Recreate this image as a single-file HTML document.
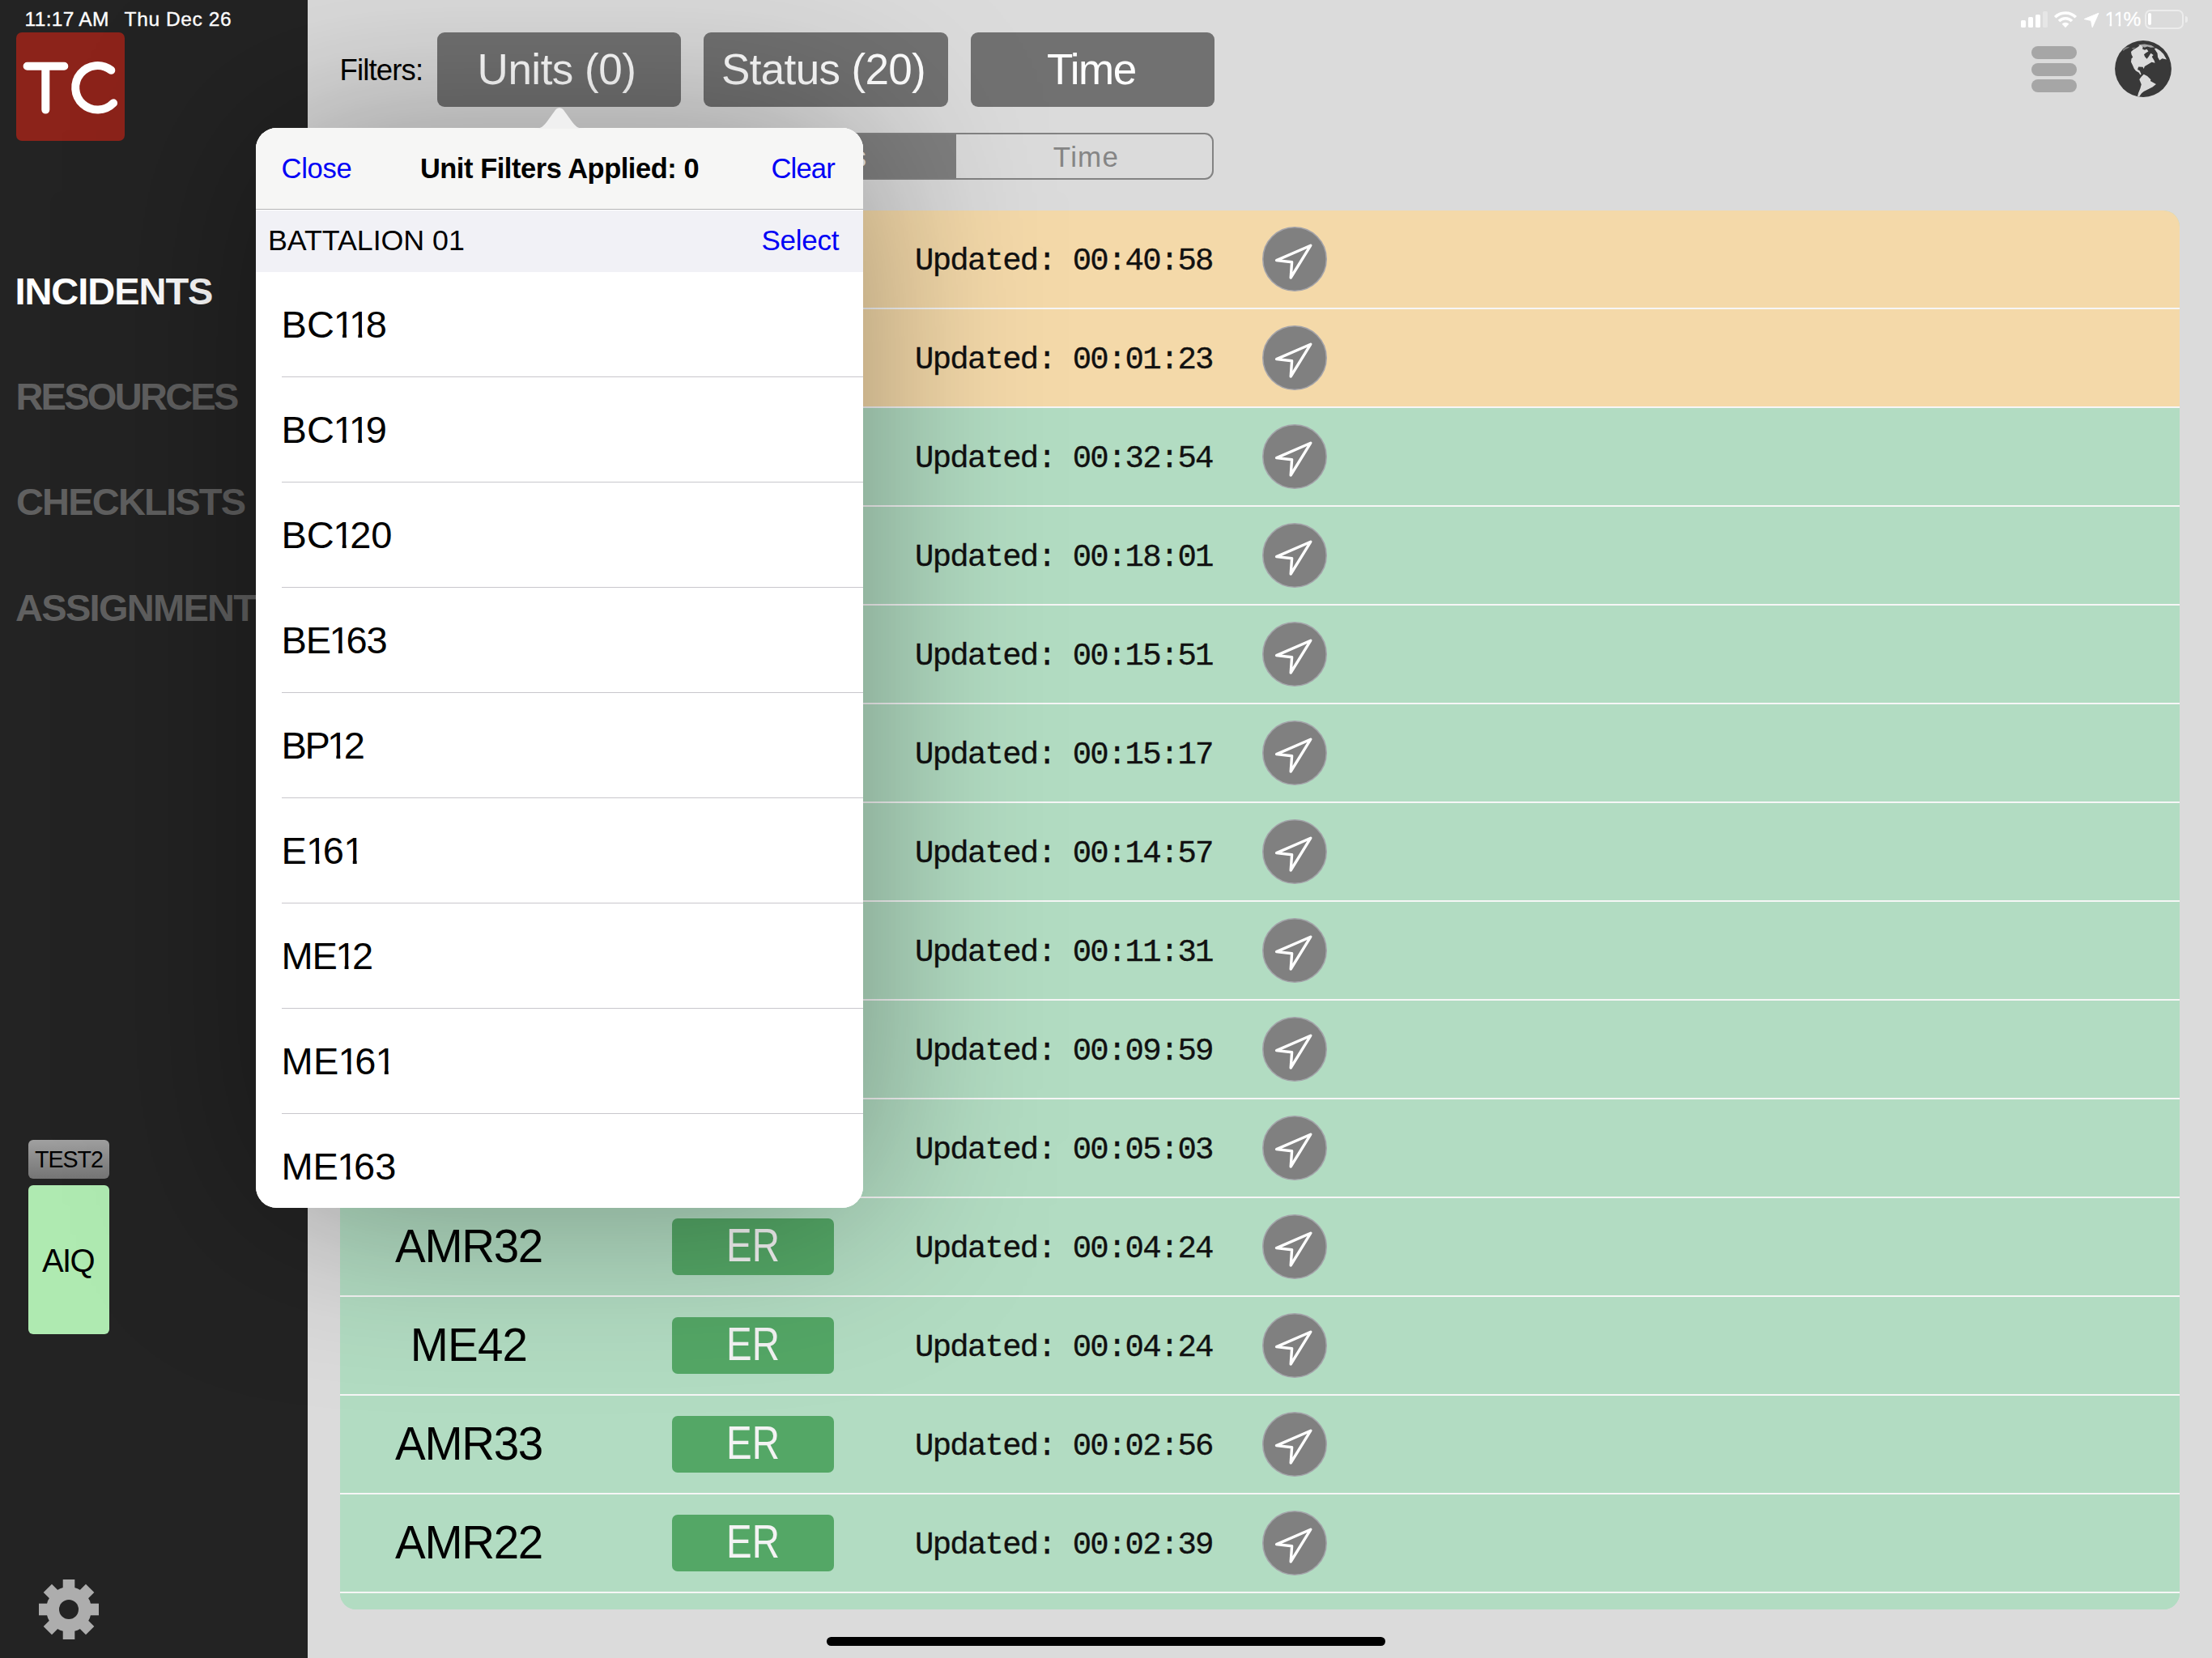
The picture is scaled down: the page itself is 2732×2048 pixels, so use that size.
<!DOCTYPE html>
<html><head><meta charset="utf-8"><title>TC</title>
<style>
html,body{margin:0;padding:0}
body{width:2732px;height:2048px;position:relative;overflow:hidden;background:#dbdbdb;font-family:"Liberation Sans",sans-serif}
.t{position:absolute;white-space:pre}
.abs{position:absolute}
#side{left:0;top:0;width:380px;height:2048px;background:#232323}
.fbtn{position:absolute;top:40px;height:92px;border-radius:9px;background:#717171}
#panel{left:420px;top:260px;width:2272px;height:1728px;border-radius:20px;overflow:hidden;background:#b2dcc2}
.row{position:absolute;left:0;width:2272px;height:120px;border-bottom:2px solid #f6f6f6}
.peach{background:#f4d9a9}.green{background:#b2dcc2}
.er{position:absolute;left:410px;top:25px;width:200px;height:70px;border-radius:7px;background:#54a766}
.nav{position:absolute;left:1139px;top:20px;width:80px;height:80px}
#pop{left:316px;top:158px;width:750px;height:1334px;border-radius:26px;background:#fff;box-shadow:0 0 230px 0 rgba(0,0,0,.35)}
#popin{position:absolute;left:0;top:0;width:750px;height:1334px;border-radius:26px;overflow:hidden;background:#fff}
.o{display:inline-block;width:16.3px;margin-left:-1.5px;margin-right:4.5px;clip-path:polygon(0 0,16.3px 0,16.3px 100%,11.4px 100%,11.4px 21.5px,0 21.5px)}
.sep{position:absolute;left:32px;right:0;height:1px;background:#c8c7cc}
</style></head><body>

<div class="t" style="left:419.5px;top:64.6px;font:normal 36.5px/44px 'Liberation Sans', sans-serif;color:#000;letter-spacing:-0.85px;">Filters:</div>
<div class="fbtn" style="left:540px;width:301px"></div>
<div class="t" style="left:537.0px;top:53.6px;font:normal 53px/64px 'Liberation Sans', sans-serif;color:#ffffff;letter-spacing:-0.5px;width:301px;text-align:center;">Units (0)</div>
<div class="fbtn" style="left:869px;width:302px"></div>
<div class="t" style="left:866.0px;top:53.6px;font:normal 53px/64px 'Liberation Sans', sans-serif;color:#ffffff;letter-spacing:-0.65px;width:302px;text-align:center;">Status (20)</div>
<div class="fbtn" style="left:1199px;width:301px"></div>
<div class="t" style="left:1197.3px;top:53.6px;font:normal 53px/64px 'Liberation Sans', sans-serif;color:#ffffff;letter-spacing:-1.5px;width:301px;text-align:center;">Time</div>
<div class="abs" style="left:540px;top:164px;width:955px;height:54px;border:2px solid #838383;border-radius:11px;overflow:hidden"><div class="abs" style="left:318px;top:0;width:321px;height:54px;background:#7f7f7f"></div><div class="abs" style="left:316px;top:0;width:2px;height:54px;background:#838383"></div></div>
<div class="t" style="left:860.0px;top:173.1px;font:normal 35px/42px 'Liberation Sans', sans-serif;color:#e9e9e9;width:321px;text-align:center;">Status</div>
<div class="t" style="left:1182.5px;top:173.1px;font:normal 35px/42px 'Liberation Sans', sans-serif;color:#858585;letter-spacing:1.2px;width:318px;text-align:center;">Time</div>
<div class="abs" style="left:2509px;top:57.4px;width:56px;height:16px;border-radius:8px;background:#a6a6a6"></div>
<div class="abs" style="left:2509px;top:77.6px;width:56px;height:16px;border-radius:8px;background:#a6a6a6"></div>
<div class="abs" style="left:2509px;top:97.8px;width:56px;height:16px;border-radius:8px;background:#a6a6a6"></div>
<svg class="abs" style="left:2612px;top:50px" width="70" height="70" viewBox="0 0 70 70"><defs><clipPath id="gc"><circle cx="35" cy="35" r="34.8"/></clipPath></defs><circle cx="35" cy="35" r="34.9" fill="#393939"/><g clip-path="url(#gc)" fill="#dbdbdb"><polygon points="19.98,14.12 22.69,11.40 28.12,8.14 31.38,5.70 34.74,7.87 34.09,10.59 36.81,11.67 39.52,10.86 41.42,13.57 38.44,15.20 35.99,17.37 37.08,20.09 39.52,22.80 41.69,20.09 44.41,15.74 47.67,17.92 45.77,20.09 48.75,24.97 49.57,27.69 45.49,26.87 42.24,28.77 36.81,32.03 35.72,35.02 34.53,32.84 29.21,32.57 28.01,35.83 30.84,37.46 31.38,38.82 32.57,41.80 31.38,42.45 29.75,39.63 25.95,37.46 23.78,34.74 22.15,30.94 19.98,26.60 20.52,22.26 22.26,20.74 20.52,17.37"/><polygon points="48.75,10.04 50.92,9.50 55.81,12.49 60.15,16.83 63.95,23.62 58.52,22.26 55.27,24.54 53.09,20.63 52.55,15.74 50.38,12.49"/><polygon points="35.72,41.80 40.07,43.97 44.41,48.32 43.87,49.95 50.92,54.02 46.58,57.55 41.15,60.26 35.72,62.98 33.01,65.15 30.02,69.60 27.85,69.60 29.21,64.60 31.38,59.17 32.74,54.29 30.84,49.40 30.29,48.05 33.01,44.52"/><polygon points="29.21,5.16 36.81,4.61 44.95,5.97 49.29,8.41 44.41,8.69 40.07,7.60 36.81,8.69 33.55,7.06 30.29,6.79" opacity=".7"/><polygon points="9.66,11.40 13.46,8.41 18.35,7.87 16.18,9.50 12.38,11.13 10.75,13.03" opacity=".45"/><polygon points="20.52,9.23 25.95,8.41 22.69,10.59" opacity=".45"/></g></svg>
<div class="abs" style="left:2496px;top:25.2px;width:6.2px;height:9.0px;border-radius:1.6px;background:#ffffff"></div>
<div class="abs" style="left:2505px;top:21.2px;width:6.2px;height:13.0px;border-radius:1.6px;background:#ffffff"></div>
<div class="abs" style="left:2514px;top:17.6px;width:6.2px;height:16.6px;border-radius:1.6px;background:#ffffff"></div>
<div class="abs" style="left:2523px;top:14px;width:6.2px;height:20.2px;border-radius:1.6px;background:#e6e6e6"></div>
<svg class="abs" style="left:2536px;top:13px" width="30" height="22" viewBox="0 0 30 22"><g fill="none" stroke="#fff" stroke-width="3.6" stroke-linecap="butt"><path d="M2.2 8.2 A18.2 18.2 0 0 1 27.8 8.2"/><path d="M7 13 A11.4 11.4 0 0 1 23 13"/></g><path d="M15 21.3 L10.6 16.6 A6.2 6.2 0 0 1 19.4 16.6 Z" fill="#fff"/></svg>
<svg class="abs" style="left:2573px;top:15px" width="20" height="20" viewBox="0 0 20 20"><path d="M19 1.2 L1.2 8.6 L9.6 10.4 L11.2 18.8 Z" fill="#fff" stroke="#fff" stroke-width="1" stroke-linejoin="round"/></svg>
<div class="t" style="left:2600.5px;top:8.8px;font:normal 24.5px/29px 'Liberation Sans', sans-serif;color:#fff;-webkit-text-stroke:0.35px #fff;"><span style="display:inline-block;width:8.5px;margin-left:-0.8px;margin-right:3.3px;clip-path:polygon(0 0,8.5px 0,8.5px 100%,5.9px 100%,5.9px 11.4px,0 11.4px)">1</span><span style="display:inline-block;width:8.5px;margin-left:-0.8px;margin-right:3.3px;clip-path:polygon(0 0,8.5px 0,8.5px 100%,5.9px 100%,5.9px 11.4px,0 11.4px)">1</span>%</div>
<div class="abs" style="left:2649px;top:12px;width:44px;height:20px;border:2px solid #ececec;border-radius:7px"></div>
<div class="abs" style="left:2652.8px;top:16px;width:4.2px;height:15px;border-radius:2px;background:#fff"></div>
<div class="abs" style="left:2698.6px;top:19.6px;width:3px;height:8.4px;border-radius:0 3px 3px 0;background:#ececec"></div>
<div id="panel" class="abs">
<div class="row peach" style="top:0px">
<div class="t" style="left:710.1px;top:39.6px;font:normal 39px/47px 'Liberation Mono', monospace;color:#111;letter-spacing:-1.78px;-webkit-text-stroke:0.35px #111;">Updated: 00:40:58</div>
<svg class="nav" viewBox="0 0 80 80"><circle cx="40" cy="40" r="39.2" fill="#808080" stroke="#a3a3a9" stroke-width="1.6"/><path d="M59.8 23.2 L17.6 41.6 L36.6 43.7 L35.2 63 Z" fill="none" stroke="#fff" stroke-width="3.4" stroke-linejoin="round" stroke-linecap="round"/></svg>
</div>
<div class="row peach" style="top:122px">
<div class="t" style="left:710.1px;top:39.6px;font:normal 39px/47px 'Liberation Mono', monospace;color:#111;letter-spacing:-1.78px;-webkit-text-stroke:0.35px #111;">Updated: 00:01:23</div>
<svg class="nav" viewBox="0 0 80 80"><circle cx="40" cy="40" r="39.2" fill="#808080" stroke="#a3a3a9" stroke-width="1.6"/><path d="M59.8 23.2 L17.6 41.6 L36.6 43.7 L35.2 63 Z" fill="none" stroke="#fff" stroke-width="3.4" stroke-linejoin="round" stroke-linecap="round"/></svg>
</div>
<div class="row green" style="top:244px">
<div class="t" style="left:710.1px;top:39.6px;font:normal 39px/47px 'Liberation Mono', monospace;color:#111;letter-spacing:-1.78px;-webkit-text-stroke:0.35px #111;">Updated: 00:32:54</div>
<svg class="nav" viewBox="0 0 80 80"><circle cx="40" cy="40" r="39.2" fill="#808080" stroke="#a3a3a9" stroke-width="1.6"/><path d="M59.8 23.2 L17.6 41.6 L36.6 43.7 L35.2 63 Z" fill="none" stroke="#fff" stroke-width="3.4" stroke-linejoin="round" stroke-linecap="round"/></svg>
</div>
<div class="row green" style="top:366px">
<div class="t" style="left:710.1px;top:39.6px;font:normal 39px/47px 'Liberation Mono', monospace;color:#111;letter-spacing:-1.78px;-webkit-text-stroke:0.35px #111;">Updated: 00:18:01</div>
<svg class="nav" viewBox="0 0 80 80"><circle cx="40" cy="40" r="39.2" fill="#808080" stroke="#a3a3a9" stroke-width="1.6"/><path d="M59.8 23.2 L17.6 41.6 L36.6 43.7 L35.2 63 Z" fill="none" stroke="#fff" stroke-width="3.4" stroke-linejoin="round" stroke-linecap="round"/></svg>
</div>
<div class="row green" style="top:488px">
<div class="t" style="left:710.1px;top:39.6px;font:normal 39px/47px 'Liberation Mono', monospace;color:#111;letter-spacing:-1.78px;-webkit-text-stroke:0.35px #111;">Updated: 00:15:51</div>
<svg class="nav" viewBox="0 0 80 80"><circle cx="40" cy="40" r="39.2" fill="#808080" stroke="#a3a3a9" stroke-width="1.6"/><path d="M59.8 23.2 L17.6 41.6 L36.6 43.7 L35.2 63 Z" fill="none" stroke="#fff" stroke-width="3.4" stroke-linejoin="round" stroke-linecap="round"/></svg>
</div>
<div class="row green" style="top:610px">
<div class="t" style="left:710.1px;top:39.6px;font:normal 39px/47px 'Liberation Mono', monospace;color:#111;letter-spacing:-1.78px;-webkit-text-stroke:0.35px #111;">Updated: 00:15:17</div>
<svg class="nav" viewBox="0 0 80 80"><circle cx="40" cy="40" r="39.2" fill="#808080" stroke="#a3a3a9" stroke-width="1.6"/><path d="M59.8 23.2 L17.6 41.6 L36.6 43.7 L35.2 63 Z" fill="none" stroke="#fff" stroke-width="3.4" stroke-linejoin="round" stroke-linecap="round"/></svg>
</div>
<div class="row green" style="top:732px">
<div class="t" style="left:710.1px;top:39.6px;font:normal 39px/47px 'Liberation Mono', monospace;color:#111;letter-spacing:-1.78px;-webkit-text-stroke:0.35px #111;">Updated: 00:14:57</div>
<svg class="nav" viewBox="0 0 80 80"><circle cx="40" cy="40" r="39.2" fill="#808080" stroke="#a3a3a9" stroke-width="1.6"/><path d="M59.8 23.2 L17.6 41.6 L36.6 43.7 L35.2 63 Z" fill="none" stroke="#fff" stroke-width="3.4" stroke-linejoin="round" stroke-linecap="round"/></svg>
</div>
<div class="row green" style="top:854px">
<div class="t" style="left:710.1px;top:39.6px;font:normal 39px/47px 'Liberation Mono', monospace;color:#111;letter-spacing:-1.78px;-webkit-text-stroke:0.35px #111;">Updated: 00:11:31</div>
<svg class="nav" viewBox="0 0 80 80"><circle cx="40" cy="40" r="39.2" fill="#808080" stroke="#a3a3a9" stroke-width="1.6"/><path d="M59.8 23.2 L17.6 41.6 L36.6 43.7 L35.2 63 Z" fill="none" stroke="#fff" stroke-width="3.4" stroke-linejoin="round" stroke-linecap="round"/></svg>
</div>
<div class="row green" style="top:976px">
<div class="t" style="left:710.1px;top:39.6px;font:normal 39px/47px 'Liberation Mono', monospace;color:#111;letter-spacing:-1.78px;-webkit-text-stroke:0.35px #111;">Updated: 00:09:59</div>
<svg class="nav" viewBox="0 0 80 80"><circle cx="40" cy="40" r="39.2" fill="#808080" stroke="#a3a3a9" stroke-width="1.6"/><path d="M59.8 23.2 L17.6 41.6 L36.6 43.7 L35.2 63 Z" fill="none" stroke="#fff" stroke-width="3.4" stroke-linejoin="round" stroke-linecap="round"/></svg>
</div>
<div class="row green" style="top:1098px">
<div class="t" style="left:710.1px;top:39.6px;font:normal 39px/47px 'Liberation Mono', monospace;color:#111;letter-spacing:-1.78px;-webkit-text-stroke:0.35px #111;">Updated: 00:05:03</div>
<svg class="nav" viewBox="0 0 80 80"><circle cx="40" cy="40" r="39.2" fill="#808080" stroke="#a3a3a9" stroke-width="1.6"/><path d="M59.8 23.2 L17.6 41.6 L36.6 43.7 L35.2 63 Z" fill="none" stroke="#fff" stroke-width="3.4" stroke-linejoin="round" stroke-linecap="round"/></svg>
</div>
<div class="row green" style="top:1220px">
<div class="t" style="left:9.0px;top:25.7px;font:normal 56.5px/68px 'Liberation Sans', sans-serif;color:#000;letter-spacing:-1.3px;width:300px;text-align:center;">AMR32</div>
<div class="er"></div>
<div class="t" style="left:410.0px;top:25.4px;font:normal 56.5px/68px 'Liberation Sans', sans-serif;color:#f3f3f3;width:200px;text-align:center;transform:scaleX(0.84);transform-origin:50% 50%;">ER</div>
<div class="t" style="left:710.1px;top:39.6px;font:normal 39px/47px 'Liberation Mono', monospace;color:#111;letter-spacing:-1.78px;-webkit-text-stroke:0.35px #111;">Updated: 00:04:24</div>
<svg class="nav" viewBox="0 0 80 80"><circle cx="40" cy="40" r="39.2" fill="#808080" stroke="#a3a3a9" stroke-width="1.6"/><path d="M59.8 23.2 L17.6 41.6 L36.6 43.7 L35.2 63 Z" fill="none" stroke="#fff" stroke-width="3.4" stroke-linejoin="round" stroke-linecap="round"/></svg>
</div>
<div class="row green" style="top:1342px">
<div class="t" style="left:9.0px;top:25.7px;font:normal 56.5px/68px 'Liberation Sans', sans-serif;color:#000;letter-spacing:-0.8px;width:300px;text-align:center;">ME42</div>
<div class="er"></div>
<div class="t" style="left:410.0px;top:25.4px;font:normal 56.5px/68px 'Liberation Sans', sans-serif;color:#f3f3f3;width:200px;text-align:center;transform:scaleX(0.84);transform-origin:50% 50%;">ER</div>
<div class="t" style="left:710.1px;top:39.6px;font:normal 39px/47px 'Liberation Mono', monospace;color:#111;letter-spacing:-1.78px;-webkit-text-stroke:0.35px #111;">Updated: 00:04:24</div>
<svg class="nav" viewBox="0 0 80 80"><circle cx="40" cy="40" r="39.2" fill="#808080" stroke="#a3a3a9" stroke-width="1.6"/><path d="M59.8 23.2 L17.6 41.6 L36.6 43.7 L35.2 63 Z" fill="none" stroke="#fff" stroke-width="3.4" stroke-linejoin="round" stroke-linecap="round"/></svg>
</div>
<div class="row green" style="top:1464px">
<div class="t" style="left:9.0px;top:25.7px;font:normal 56.5px/68px 'Liberation Sans', sans-serif;color:#000;letter-spacing:-1.3px;width:300px;text-align:center;">AMR33</div>
<div class="er"></div>
<div class="t" style="left:410.0px;top:25.4px;font:normal 56.5px/68px 'Liberation Sans', sans-serif;color:#f3f3f3;width:200px;text-align:center;transform:scaleX(0.84);transform-origin:50% 50%;">ER</div>
<div class="t" style="left:710.1px;top:39.6px;font:normal 39px/47px 'Liberation Mono', monospace;color:#111;letter-spacing:-1.78px;-webkit-text-stroke:0.35px #111;">Updated: 00:02:56</div>
<svg class="nav" viewBox="0 0 80 80"><circle cx="40" cy="40" r="39.2" fill="#808080" stroke="#a3a3a9" stroke-width="1.6"/><path d="M59.8 23.2 L17.6 41.6 L36.6 43.7 L35.2 63 Z" fill="none" stroke="#fff" stroke-width="3.4" stroke-linejoin="round" stroke-linecap="round"/></svg>
</div>
<div class="row green" style="top:1586px">
<div class="t" style="left:9.0px;top:25.7px;font:normal 56.5px/68px 'Liberation Sans', sans-serif;color:#000;letter-spacing:-1.3px;width:300px;text-align:center;">AMR22</div>
<div class="er"></div>
<div class="t" style="left:410.0px;top:25.4px;font:normal 56.5px/68px 'Liberation Sans', sans-serif;color:#f3f3f3;width:200px;text-align:center;transform:scaleX(0.84);transform-origin:50% 50%;">ER</div>
<div class="t" style="left:710.1px;top:39.6px;font:normal 39px/47px 'Liberation Mono', monospace;color:#111;letter-spacing:-1.78px;-webkit-text-stroke:0.35px #111;">Updated: 00:02:39</div>
<svg class="nav" viewBox="0 0 80 80"><circle cx="40" cy="40" r="39.2" fill="#808080" stroke="#a3a3a9" stroke-width="1.6"/><path d="M59.8 23.2 L17.6 41.6 L36.6 43.7 L35.2 63 Z" fill="none" stroke="#fff" stroke-width="3.4" stroke-linejoin="round" stroke-linecap="round"/></svg>
</div>
<div class="row green" style="top:1708px">
</div>
</div>
<div class="abs" style="left:1021px;top:2022px;width:690px;height:11px;border-radius:6px;background:#000"></div>
<div id="side" class="abs"></div>
<div class="t" style="left:30.6px;top:9.2px;font:normal 24.5px/29px 'Liberation Sans', sans-serif;color:#fff;letter-spacing:0.3px;-webkit-text-stroke:0.35px #fff;">11:17 AM</div>
<div class="t" style="left:153.6px;top:9.2px;font:normal 24.5px/29px 'Liberation Sans', sans-serif;color:#fff;letter-spacing:0.6px;-webkit-text-stroke:0.35px #fff;">Thu Dec 26</div>
<svg class="abs" style="left:20px;top:40px" width="134" height="134" viewBox="0 0 134 134"><rect width="134" height="134" rx="7" fill="#8c231a"/><g fill="none" stroke="#fff" stroke-width="10" stroke-linecap="round"><path d="M13.6 41.7 H59.3 M36.3 41.7 V95.6"/><path d="M117.3 46.8 A27.3 27.3 0 1 0 120.1 87.3"/></g></svg>
<div class="t" style="left:18.4px;top:332.0px;font:bold 47px/56px 'Liberation Sans', sans-serif;color:#fff;letter-spacing:-1.03px;">INCIDENTS</div>
<div class="t" style="left:19.4px;top:462.1px;font:bold 47px/56px 'Liberation Sans', sans-serif;color:#606060;letter-spacing:-2.72px;">RESOURCES</div>
<div class="t" style="left:19.9px;top:592.3px;font:bold 47px/56px 'Liberation Sans', sans-serif;color:#606060;letter-spacing:-1.79px;">CHECKLISTS</div>
<div class="t" style="left:19.0px;top:722.6px;font:bold 47px/56px 'Liberation Sans', sans-serif;color:#606060;letter-spacing:-1.7px;">ASSIGNMENTS</div>
<div class="abs" style="left:35px;top:1408px;width:100px;height:48px;border-radius:6px;background:linear-gradient(#a0a0a0,#757575)"></div>
<div class="t" style="left:35.0px;top:1415.1px;font:normal 28.6px/34px 'Liberation Sans', sans-serif;color:#000;letter-spacing:-1.0px;width:100px;text-align:center;">TEST2</div>
<div class="abs" style="left:35px;top:1464px;width:100px;height:184px;border-radius:6px;background:#afeab1"></div>
<div class="t" style="left:34.0px;top:1532.8px;font:normal 40px/48px 'Liberation Sans', sans-serif;color:#000;letter-spacing:-1.6px;width:100px;text-align:center;">AIQ</div>
<svg class="abs" style="left:48px;top:1951px" width="74" height="74" viewBox="-37 -37 74 74"><g fill="#adadad"><rect x="-7.3" y="-37" width="14.6" height="74" transform="rotate(0)"/><rect x="-7.3" y="-37" width="14.6" height="74" transform="rotate(45)"/><rect x="-7.3" y="-37" width="14.6" height="74" transform="rotate(90)"/><rect x="-7.3" y="-37" width="14.6" height="74" transform="rotate(135)"/><circle r="28"/></g><circle r="12" fill="#232323"/></svg>
<div id="pop" class="abs"><div id="popin">
<div class="abs" style="left:0;top:0;width:750px;height:100px;background:#f6f6f5;border-bottom:1.5px solid #b4b4b6"></div>
<div class="abs" style="left:0;top:101.5px;width:750px;height:76.5px;background:#f1f1f6"></div>
<div class="t" style="left:31.5px;top:29.4px;font:normal 34.6px/42px 'Liberation Sans', sans-serif;color:#0000f5;letter-spacing:-0.3px;">Close</div>
<div class="t" style="left:0.0px;top:30.0px;font:bold 34.4px/41px 'Liberation Sans', sans-serif;color:#000;letter-spacing:-0.43px;width:750px;text-align:center;">Unit Filters Applied: 0</div>
<div class="t" style="left:636.5px;top:29.4px;font:normal 34.6px/42px 'Liberation Sans', sans-serif;color:#0000f5;letter-spacing:-0.85px;">Clear</div>
<div class="t" style="left:15.0px;top:118.2px;font:normal 35.8px/43px 'Liberation Sans', sans-serif;color:#000;letter-spacing:-0.05px;">BATTALION 01</div>
<div class="t" style="left:624.5px;top:118.4px;font:normal 35px/42px 'Liberation Sans', sans-serif;color:#0000f5;letter-spacing:-0.25px;">Select</div>
<div class="t" style="left:31.4px;top:215.2px;font:normal 47px/56px 'Liberation Sans', sans-serif;color:#000;letter-spacing:0.23px;">BC<span class="o">1</span><span class="o">1</span>8</div>
<div class="sep" style="top:307px"></div>
<div class="t" style="left:31.4px;top:345.2px;font:normal 47px/56px 'Liberation Sans', sans-serif;color:#000;letter-spacing:0.18px;">BC<span class="o">1</span><span class="o">1</span>9</div>
<div class="sep" style="top:437px"></div>
<div class="t" style="left:31.4px;top:475.2px;font:normal 47px/56px 'Liberation Sans', sans-serif;color:#000;letter-spacing:0.08px;">BC<span class="o">1</span>20</div>
<div class="sep" style="top:567px"></div>
<div class="t" style="left:31.4px;top:605.2px;font:normal 47px/56px 'Liberation Sans', sans-serif;color:#000;letter-spacing:-1.0px;">BE<span class="o">1</span>63</div>
<div class="sep" style="top:697px"></div>
<div class="t" style="left:31.4px;top:735.2px;font:normal 47px/56px 'Liberation Sans', sans-serif;color:#000;letter-spacing:-2.3px;">BP<span class="o">1</span>2</div>
<div class="sep" style="top:827px"></div>
<div class="t" style="left:31.4px;top:865.2px;font:normal 47px/56px 'Liberation Sans', sans-serif;color:#000;letter-spacing:0.82px;">E<span class="o">1</span>6<span class="o">1</span></div>
<div class="sep" style="top:957px"></div>
<div class="t" style="left:31.4px;top:995.2px;font:normal 47px/56px 'Liberation Sans', sans-serif;color:#000;letter-spacing:-1.1px;">ME<span class="o">1</span>2</div>
<div class="sep" style="top:1087px"></div>
<div class="t" style="left:31.4px;top:1125.2px;font:normal 47px/56px 'Liberation Sans', sans-serif;color:#000;letter-spacing:0.53px;">ME<span class="o">1</span>6<span class="o">1</span></div>
<div class="sep" style="top:1217px"></div>
<div class="t" style="left:31.4px;top:1255.2px;font:normal 47px/56px 'Liberation Sans', sans-serif;color:#000;letter-spacing:-0.06px;">ME<span class="o">1</span>63</div>
<div class="sep" style="top:1347px"></div>
</div></div>
<svg class="abs" style="left:651px;top:131px" width="80" height="28" viewBox="0 0 80 28"><path d="M0 28 H9 C17 28 20 25 24 20 L34.5 5.5 C37.5 1.2 42.5 1.2 45.5 5.5 L56 20 C60 25 63 28 71 28 H80 Z" fill="#f0f0f0"/></svg>
</body></html>
